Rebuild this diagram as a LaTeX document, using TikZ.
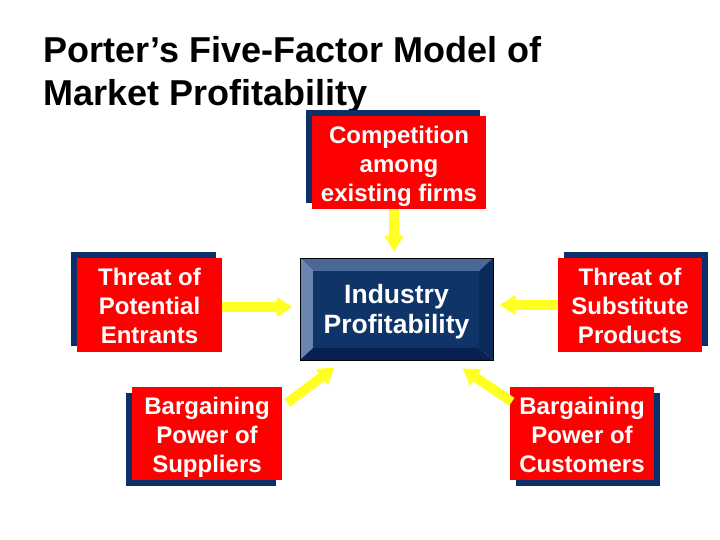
\documentclass[tikz,border=0pt]{standalone}
\usepackage{fontspec}
\setmainfont{Liberation Sans}
\usetikzlibrary{arrows.meta,shadows,calc}
\definecolor{navy}{HTML}{0B2F66}
\definecolor{boxred}{HTML}{FF0000}
\definecolor{arrowyellow}{HTML}{FFFF22}
\definecolor{bevtop}{HTML}{4A6896}
\definecolor{bevleft}{HTML}{6A86B0}
\definecolor{bevright}{HTML}{0A2A58}
\definecolor{bevbottom}{HTML}{072250}
\definecolor{bevcenter}{HTML}{0F3568}
\newcommand{\boxlines}[2]{\raisebox{#1}[\height][\depth]{\begin{tabular}{@{}c@{}}#2\end{tabular}}}
\begin{document}
\begin{tikzpicture}[x=1pt,y=-1pt,
  redbox/.style={fill=boxred, text=white, font=\bfseries\fontsize{24}{28.8}\selectfont,
    inner sep=0pt},
  shTL/.style={general shadow={fill=navy, shadow xshift=-6pt, shadow yshift=6pt}},
  shBL/.style={general shadow={fill=navy, shadow xshift=-6pt, shadow yshift=-6pt}},
  shTR/.style={general shadow={fill=navy, shadow xshift=6pt, shadow yshift=6pt}},
  shBR/.style={general shadow={fill=navy, shadow xshift=6pt, shadow yshift=-6pt}},
  arr/.style={draw=arrowyellow, line width=9.5pt, -{Triangle[width=19pt,length=16pt]}}]
\useasboundingbox (0,0) rectangle (720,540);
\fill[white] (0,0) rectangle (720,540);

\node[anchor=north west, align=left, inner sep=0pt,
  font=\bfseries\fontsize{36}{43}\selectfont] (title) at (43,36)
  {Porter’s Five-Factor Model of\\Market Profitability};

% red boxes
\node[redbox, shTL, minimum width=174pt, minimum height=93pt] (comp) at (399,162.5)
  {\boxlines{-4pt}{Competition\\among\\existing firms}};
\node[redbox, shTL, minimum width=145pt, minimum height=94pt] (ent) at (149.5,305)
  {\boxlines{-4pt}{Threat of\\Potential\\Entrants}};
\node[redbox, shBL, minimum width=150pt, minimum height=93pt] (sup) at (207,433.5)
  {\boxlines{-4pt}{Bargaining\\Power of\\Suppliers}};
\node[redbox, shTR, minimum width=144pt, minimum height=94pt] (sub) at (630,305)
  {\boxlines{-4pt}{Threat of\\Substitute\\Products}};
\node[redbox, shBR, minimum width=144pt, minimum height=93pt] (cust) at (582,433.5)
  {\boxlines{-4pt}{Bargaining\\Power of\\Customers}};

% bevelled industry box
\fill[bevtop] (300,258) -- (493,258) -- (479,271) -- (313,271) -- cycle;
\fill[bevleft] (300,258) -- (313,271) -- (313,348) -- (300,360) -- cycle;
\fill[bevright] (493,258) -- (493,360) -- (479,348) -- (479,271) -- cycle;
\fill[bevbottom] (300,360) -- (493,360) -- (479,348) -- (313,348) -- cycle;
\fill[bevcenter] (313,271) rectangle (479,348);
\node[draw=black, line width=1pt, minimum width=193pt, minimum height=102pt,
  inner sep=0pt, text=white,
  font=\bfseries\fontsize{26.5}{30}\selectfont] (ind) at (396.5,309)
  {\boxlines{-3pt}{Industry\\Profitability}};

% arrows
\draw[arr, shorten >=6pt] ([xshift=-5pt]comp.south) -- ([xshift=-5pt]comp.south |- ind.north);
\draw[arr, shorten >=7pt] ([yshift=-2pt]ent.east) -- ([yshift=-2pt]ent.east -| ind.west);
\draw[arr, shorten >=6pt] (sub.west) -- (sub.west -| ind.east);
\draw[arr] ($(sup.north east)+(5,16)$) -- ($(ind.south west)+(35,7)$);
\draw[arr] ($(cust.north west)+(2,15)$) -- ($(ind.south east)+(-31,8)$);
\end{tikzpicture}
\end{document}
